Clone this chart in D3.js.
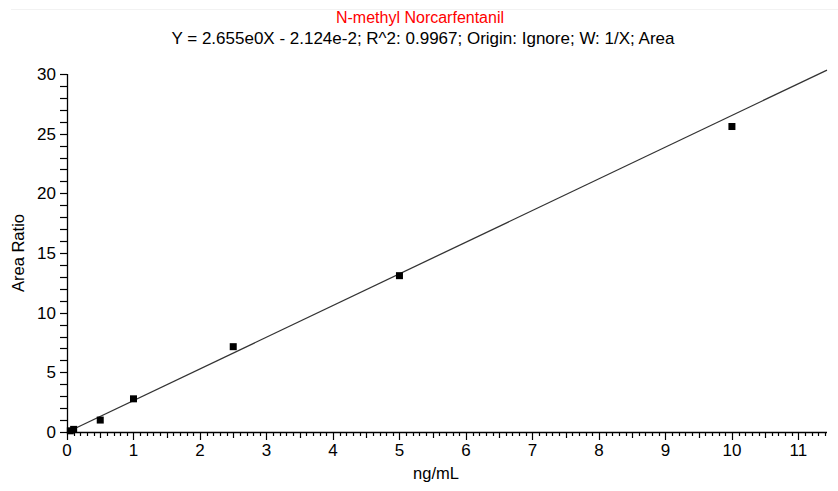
<!DOCTYPE html>
<html><head><meta charset="utf-8">
<script src="https://cdn.jsdelivr.net/npm/d3@7"></script>
<style>body{margin:0;background:#fff}svg{display:block}text{font-family:"Liberation Sans",Arial,sans-serif}</style>
</head><body><svg id="c" width="838" height="491"></svg>
<script>
const title = "N-methyl Norcarfentanil";
const subtitle = "Y = 2.655e0X - 2.124e-2; R^2: 0.9967; Origin: Ignore; W: 1/X; Area";
const concentrations = [0.05, 0.1, 0.5, 1, 2.5, 5, 10];
const areaRatios = [0.1, 0.22, 1.0, 2.78, 7.15, 13.1, 25.6];
const slope = 2.655, intercept = -0.02124;
const xTicks = [0,1,2,3,4,5,6,7,8,9,10,11];
const yTicks = [0,5,10,15,20,25,30];
const xDomain = [0, 11.43];
const yDomain = [0, 30];

const svg = d3.select("#c");
const x = d3.scaleLinear().domain(xDomain).range([67, 827]);
const y = d3.scaleLinear().domain(yDomain).range([432, 74]);

svg.append("line").attr("x1",11).attr("x2",838).attr("y1",9.5).attr("y2",9.5).attr("stroke","#f2f2f2");

svg.append("text").attr("x",420).attr("y",23).attr("text-anchor","middle").attr("fill","#ff0000").attr("font-size",16).text(title);
svg.append("text").attr("x",423).attr("y",44).attr("text-anchor","middle").attr("fill","#000").attr("font-size",17).text(subtitle);

// x axis
const gx = svg.append("g");
gx.append("line").attr("x1",x(0)).attr("x2",827).attr("y1",432.5).attr("y2",432.5).attr("stroke","#000").attr("stroke-width",1.3);
const minorX = d3.range(0, 115).map(i => i/10).filter(v => v <= xDomain[1]);
gx.selectAll("line.m").data(minorX).join("line")
  .attr("x1", d=>Math.round(x(d))+0.5).attr("x2", d=>Math.round(x(d))+0.5)
  .attr("y1",432).attr("y2", (d,i)=> (Math.round(d*10)%10===0)?440:(Math.round(d*10)%5===0?438:436))
  .attr("stroke","#000").attr("stroke-width",1.2);
gx.selectAll("text").data(xTicks).join("text")
  .attr("x", d=>x(d)).attr("y",456).attr("text-anchor","middle").attr("font-size",17).text(d=>d);
svg.append("text").attr("x",436).attr("y",479).attr("text-anchor","middle").attr("font-size",16.5).text("ng/mL");

// y axis
const gy = svg.append("g");
gy.append("line").attr("x1",67.5).attr("x2",67.5).attr("y1",y(30)).attr("y2",433).attr("stroke","#000").attr("stroke-width",1.3);
const minorY = d3.range(0, 31);
gy.selectAll("line.m").data(minorY).join("line")
  .attr("x1",60).attr("x2",67)
  .attr("y1", d=>Math.round(y(d))+0.5).attr("y2", d=>Math.round(y(d))+0.5)
  .attr("stroke","#000").attr("stroke-width",1.2);
gy.selectAll("text").data(yTicks).join("text")
  .attr("x",56).attr("y", d=>y(d)+6).attr("text-anchor","end").attr("font-size",17).text(d=>d);
svg.append("text").attr("transform","translate(24,253) rotate(-90)").attr("text-anchor","middle").attr("font-size",16.5).text("Area Ratio");

// regression line
const x0 = 0, x1 = xDomain[1];
svg.append("line").attr("x1",x(x0)).attr("y1",y(slope*x0+intercept)).attr("x2",x(x1)).attr("y2",y(slope*x1+intercept))
  .attr("stroke","#333").attr("stroke-width",1.3);

// points
svg.selectAll("rect.p").data(concentrations.map((c,i)=>[c,areaRatios[i]])).join("rect")
  .attr("x", d=>x(d[0])-3.5).attr("y", d=>y(d[1])-3.5).attr("width",7).attr("height",7).attr("fill","#000");
</script></body></html>
